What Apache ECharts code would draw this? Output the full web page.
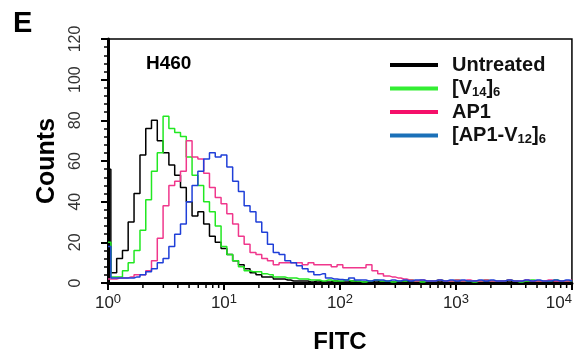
<!DOCTYPE html>
<html>
<head>
<meta charset="utf-8">
<script src="https://cdn.jsdelivr.net/npm/echarts@6/dist/echarts.min.js"></script>
<style>
  html, body { margin: 0; padding: 0; background: #fff; }
  #chart { width: 588px; height: 359px; }
</style>
</head>
<body>
<div id="chart"></div>
<script>
// FITC channel positions (log bins, 20 per decade)
const fitc = [
  1, 1.12, 1.26, 1.41, 1.58, 1.78, 2, 2.24, 2.51, 2.82, 3.16, 3.55, 3.98, 4.47, 5.01, 5.62, 6.31, 7.08, 7.94, 8.91,
  10, 11.2, 12.6, 14.1, 15.8, 17.8, 20, 22.4, 25.1, 28.2, 31.6, 35.5, 39.8, 44.7, 50.1, 56.2, 63.1, 70.8, 79.4, 89.1,
  100, 112, 126, 141, 158, 178, 200, 224, 251, 282, 316, 355, 398, 447, 501, 562, 631, 708, 794, 891,
  1000, 1122, 1259, 1413, 1585, 1778, 1995, 2239, 2512, 2818, 3162, 3548, 3981, 4467, 5012, 5623, 6310, 7079, 7943, 8913, 10000
];

const untreated = [
  56, 5, 12, 16, 30, 44, 63, 76, 80, 70, 64, 58, 53, 47, 40, 33, 35, 29, 23, 20,
  17, 14, 11, 9, 7, 5, 4, 3, 3, 2, 2, 1.5, 1, 1, 1, 0.5, 1, 0.5, 0.5, 1,
  0.5, 0.5, 1, 0.5, 0.5, 0.5, 1, 0.5, 0.5, 0.5, 0.5, 1, 0.5, 0.5, 0.5, 0.5, 0.5, 1, 0.5, 0.5,
  0.5, 0.5, 0.5, 1, 0.5, 0.5, 0.5, 0.5, 0.5, 1, 0.5, 0.5, 0.5, 0.5, 0.5, 0.5, 1, 0.5, 0.5, 0.5, 0.5
];

const v14 = [
  20, 3, 3, 6, 10, 16, 26, 41, 55, 64, 82, 76, 74, 72, 62, 53, 48, 40, 35, 28,
  18, 14, 11, 8, 6, 5.5, 5.5, 4.5, 4, 3, 3, 2.5, 2.5, 2, 2, 1.5, 1.5, 1, 1.5, 1,
  1, 1.5, 1, 1, 0.5, 1, 1.5, 1, 1, 0.5, 1, 1, 1.5, 1, 0.5, 1, 1, 1.5, 1, 1,
  1.5, 1, 1, 0.5, 1, 1.5, 1, 1, 1, 1.5, 1, 0.5, 1, 1.5, 1, 1, 1, 1.5, 1, 1, 1
];

const ap1 = [
  2, 2, 2.5, 2.5, 3, 4, 4, 6, 11, 22, 38, 48, 50, 55, 70, 62, 61, 54, 47, 42,
  39, 34, 29, 23, 19, 15, 14, 12, 11, 9, 10, 10, 10, 10, 9, 10, 9, 9, 9, 8,
  9, 7.5, 7.5, 7.5, 7.5, 9, 6, 4.5, 3.5, 3, 2.5, 2, 1.5, 1, 1.5, 1, 1, 1.5, 1, 1,
  1.5, 1, 1.5, 1, 1, 1.5, 1, 1, 1, 1.5, 1, 1, 1.5, 1, 1, 1, 1.5, 1, 1, 1, 1.5
];

const ap1v12 = [
  18, 2.5, 2.5, 2.5, 2.5, 3, 4, 5.5, 7, 10, 12, 18, 24, 29, 40, 48, 55, 61, 64, 62,
  63, 57, 50, 45, 38, 35, 30, 25, 19, 15, 14, 11, 10, 8.5, 7, 5.5, 4, 4.5, 2.5, 2,
  1.7, 1.5, 2.5, 1.5, 1.5, 1, 1.5, 1.5, 1, 1.5, 1, 1.5, 1, 1.5, 1.5, 1, 1, 1.5, 1, 1.5,
  1, 1.5, 1, 1, 1.5, 1, 1.5, 1, 1, 1.5, 1, 1, 1.5, 1, 1.5, 1, 1, 1.5, 1, 1.5, 1
];

const seriesNames = ['Untreated', '[V14]6', 'AP1', '[AP1-V12]6'];
const seriesValues = [untreated, v14, ap1, ap1v12];
const lineColors = ['#000000', '#22e822', '#f0378c', '#1f3fd8'];
const legendColors = ['#000000', '#33ee33', '#f5106a', '#1a70b8'];
const legendLabels = [
  '{sp|}{m|Untreated}',
  '{sp|}{m|[V}{s|14}{m|]}{s|6}',
  '{sp|}{m|AP1}',
  '{sp|}{m|[AP1-V}{s|12}{m|]}{s|6}'
];

const minorTickVals = [
  2, 3, 4, 5, 6, 7, 8, 9,
  20, 30, 40, 50, 60, 70, 80, 90,
  200, 300, 400, 500, 600, 700, 800, 900,
  2000, 3000, 4000, 5000, 6000, 7000, 8000, 9000
];

const chart = echarts.init(document.getElementById('chart'));

const histSeries = seriesNames.map((name, i) => ({
  name,
  type: 'line',
  step: 'middle',
  showSymbol: false,
  animation: false,
  data: fitc.map((x, j) => [x, seriesValues[i][j]]),
  lineStyle: { width: 1.5, color: lineColors[i] },
  itemStyle: { color: lineColors[i] }
}));

const option = {
  backgroundColor: '#fff',
  animation: false,
  textStyle: { fontFamily: 'Liberation Sans, Arial, sans-serif' },
  title: [
    { text: 'E', left: 8, top: 4, textStyle: { fontSize: 29, fontWeight: 'bold', color: '#000' } },
    { text: 'H460', left: 141, top: 49, textStyle: { fontSize: 19, fontWeight: 'bold', color: '#000' } }
  ],
  grid: {
    left: 108, right: 16, top: 39, bottom: 70,
    show: true, borderColor: '#000', borderWidth: 1.5, backgroundColor: 'transparent'
  },
  legend: {
    orient: 'vertical',
    left: 385,
    top: 50,
    itemWidth: 48,
    itemHeight: 4,
    itemGap: 3.5,
    icon: 'rect',
    data: seriesNames.map((n, i) => ({ name: n, itemStyle: { color: legendColors[i] } })),
    formatter: name => legendLabels[seriesNames.indexOf(name)],
    textStyle: {
      color: '#111',
      rich: {
        sp: { width: 9 },
        m: { fontSize: 20, fontWeight: 'bold', lineHeight: 20, color: '#111' },
        s: { fontSize: 13, fontWeight: 'bold', lineHeight: 10, verticalAlign: 'bottom', color: '#111' }
      }
    }
  },
  xAxis: {
    type: 'log',
    logBase: 10,
    min: 1,
    max: 10000,
    name: 'FITC',
    nameLocation: 'middle',
    nameGap: 47,
    nameTextStyle: { fontSize: 24, fontWeight: 'bold', color: '#000' },
    axisLine: { lineStyle: { color: '#000', width: 3 } },
    axisTick: { length: 7, lineStyle: { color: '#000', width: 2 } },
    splitLine: { show: false },
    axisLabel: {
      margin: 10,
      formatter: v => {
        const p = Math.round(Math.log10(v));
        return p === 4 ? '{b|10}{s|' + p + '}{pad|}' : '{b|10}{s|' + p + '}';
      },
      rich: {
        b: { fontSize: 17, lineHeight: 20, color: '#222' },
        s: { fontSize: 13, lineHeight: 12, verticalAlign: 'top', color: '#222' },
        pad: { width: 26 }
      }
    }
  },
  yAxis: {
    type: 'value',
    min: 0,
    max: 120,
    interval: 20,
    name: 'Counts',
    nameLocation: 'middle',
    nameGap: 45,
    nameRotate: 90,
    nameTextStyle: { fontSize: 25, fontWeight: 'bold', color: '#000' },
    axisLine: { show: true, lineStyle: { color: '#000', width: 3 } },
    axisTick: { show: true, length: 7, lineStyle: { color: '#000', width: 2 } },
    minorTick: { show: true, splitNumber: 5, length: 4, lineStyle: { color: '#000', width: 1.5 } },
    splitLine: { show: false },
    axisLabel: { rotate: 90, margin: 24, fontSize: 16, color: '#333' }
  },
  series: histSeries.concat([{
    type: 'custom',
    name: 'minorTicks',
    silent: true,
    clip: false,
    z: 10,
    data: minorTickVals.map(v => [v, 0]),
    renderItem: (params, api) => {
      const p = api.coord([api.value(0), 0]);
      return {
        type: 'line',
        shape: { x1: p[0], y1: p[1], x2: p[0], y2: p[1] + 5 },
        style: { stroke: '#000', lineWidth: 1.5 }
      };
    }
  }])
};

chart.setOption(option);
</script>
</body>
</html>
